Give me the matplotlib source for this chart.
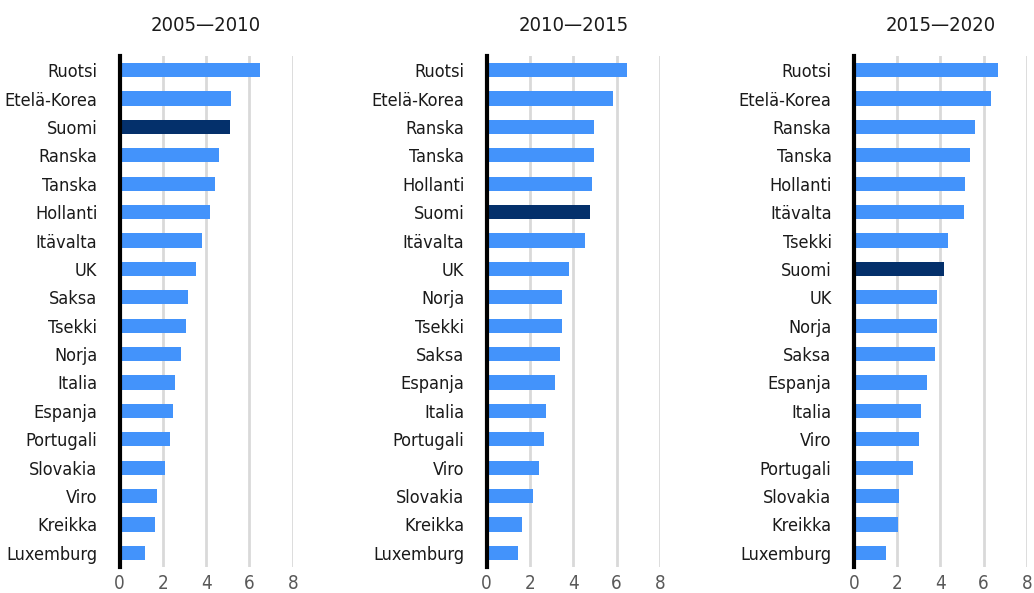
import matplotlib
matplotlib.use("Agg")
from matplotlib import pyplot as plt

plt.rcParams['font.family'] = ['DejaVu Sans']
plt.rcParams['font.stretch'] = 'condensed'

titles = ["2005\u20142010", "2010\u20142015", "2015\u20142020"]

countries_1 = ["Ruotsi", "Etelä-Korea", "Suomi", "Ranska", "Tanska", "Hollanti",
               "Itävalta", "UK", "Saksa", "Tsekki", "Norja", "Italia", "Espanja",
               "Portugali", "Slovakia", "Viro", "Kreikka", "Luxemburg"]
values_1 = [6.5, 5.16, 5.11, 4.6, 4.42, 4.19, 3.82, 3.54, 3.17, 3.08, 2.85,
            2.57, 2.48, 2.34, 2.11, 1.74, 1.65, 1.19]

countries_2 = ["Ruotsi", "Etelä-Korea", "Ranska", "Tanska", "Hollanti", "Suomi",
               "Itävalta", "UK", "Norja", "Tsekki", "Saksa", "Espanja", "Italia",
               "Portugali", "Viro", "Slovakia", "Kreikka", "Luxemburg"]
values_2 = [6.47, 5.82, 4.94, 4.94, 4.85, 4.76, 4.53, 3.79, 3.47, 3.47, 3.38,
            3.15, 2.73, 2.64, 2.41, 2.13, 1.63, 1.44]

countries_3 = ["Ruotsi", "Etelä-Korea", "Ranska", "Tanska", "Hollanti", "Itävalta",
               "Tsekki", "Suomi", "UK", "Norja", "Saksa", "Espanja", "Italia",
               "Viro", "Portugali", "Slovakia", "Kreikka", "Luxemburg"]
values_3 = [6.64, 6.32, 5.58, 5.35, 5.12, 5.08, 4.34, 4.15, 3.83, 3.83, 3.74,
            3.37, 3.09, 3.0, 2.72, 2.08, 2.03, 1.48]

xticks = [0, 2, 4, 6, 8]

light = "#4393FB"
dark = "#04306B"

fig = plt.figure(figsize=(10.34, 5.93), dpi=100)

lefts = [0.1156, 0.4707, 0.8257]
panels = [(countries_1, values_1), (countries_2, values_2), (countries_3, values_3)]

for left, title, (names, vals) in zip(lefts, titles, panels):
    ax = fig.add_axes([left, 0.0438, 0.1675, 0.8618])
    colors = [dark if n == "Suomi" else light for n in names]
    pos = list(range(len(names)))
    ax.barh(pos, vals, height=0.5, color=colors, zorder=3)
    ax.set_ylim(len(names) - 0.5, -0.5)
    ax.set_xlim(0, 8)
    ax.set_yticks(pos)
    ax.set_yticklabels(names, fontsize=13, color="#1a1a1a")
    ax.set_xticks(xticks)
    ax.set_xticklabels([str(t) for t in xticks], fontsize=13.5, color="#595959")
    ax.tick_params(axis="y", length=0, pad=16)
    ax.tick_params(axis="x", length=0, pad=5)
    ax.grid(axis="x", color="#d9d9d9", linewidth=2, zorder=0)
    for s in ["top", "right", "bottom"]:
        ax.spines[s].set_visible(False)
    ax.spines["left"].set_linewidth(3)
    ax.spines["left"].set_color("black")
    ax.spines["left"].set_zorder(4)
    ax.set_title(title, fontsize=14.5, color="#1a1a1a", pad=18)

plt.savefig("out.png", dpi=100)
